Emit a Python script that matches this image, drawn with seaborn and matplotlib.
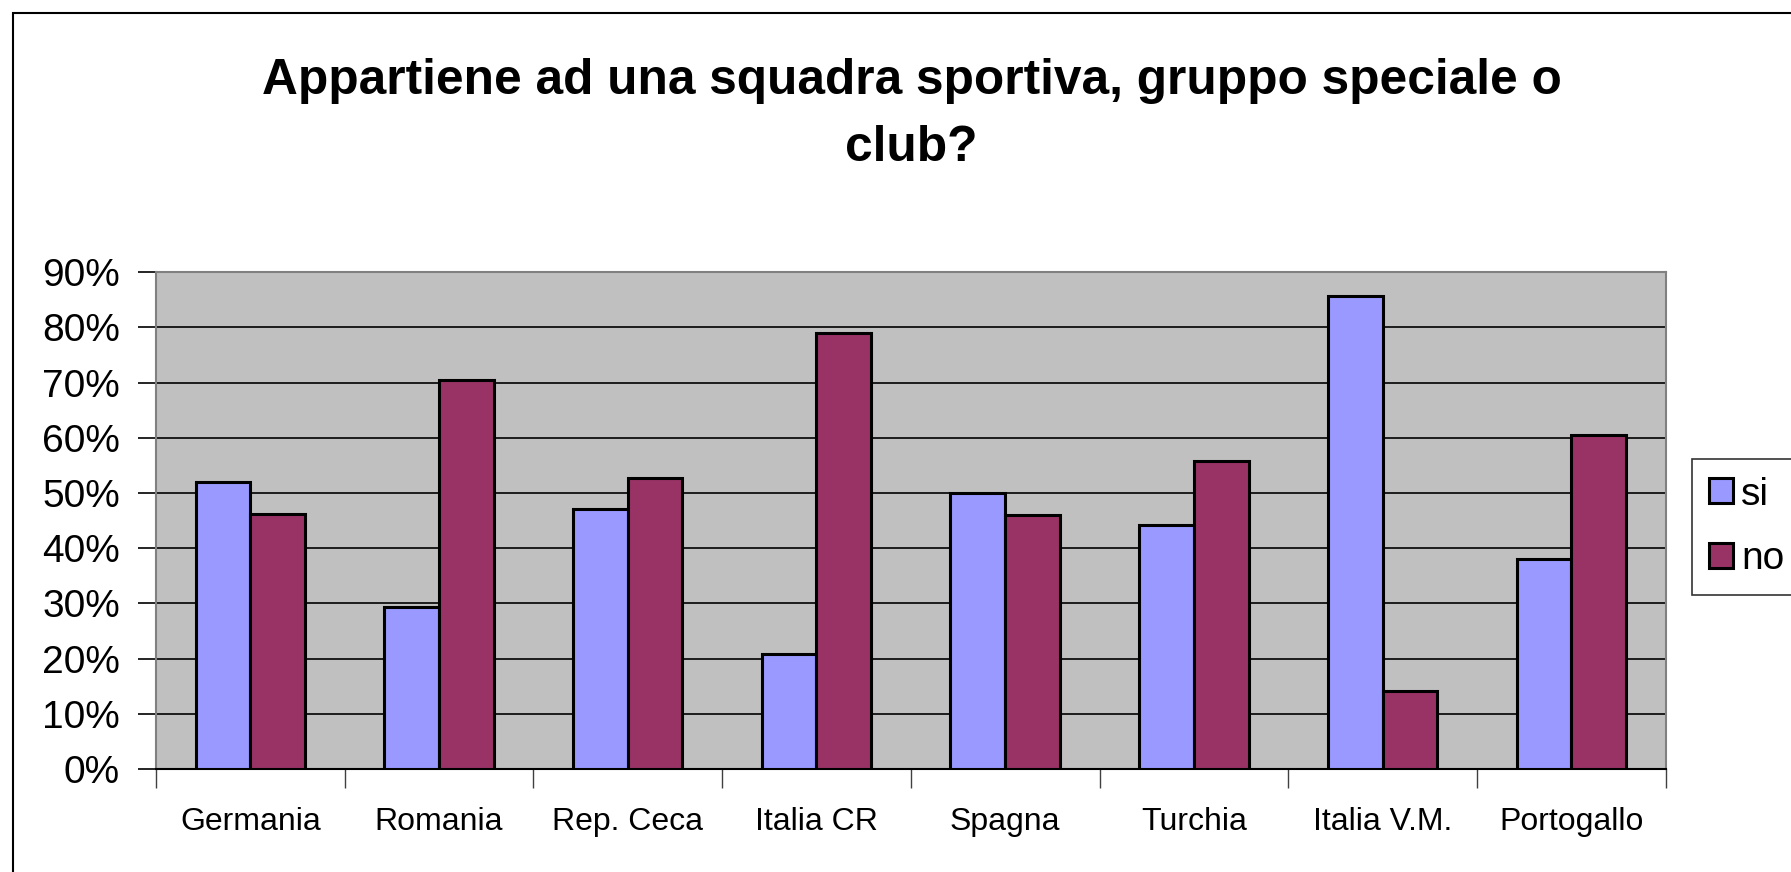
import pandas as pd
import matplotlib.pyplot as plt
import seaborn as sns
from matplotlib.ticker import PercentFormatter
from matplotlib.patches import Rectangle

# Data
countries = ['Germania', 'Romania', 'Rep. Ceca', 'Italia CR', 'Spagna',
             'Turchia', 'Italia V.M.', 'Portogallo']
si_values = [0.519, 0.294, 0.471, 0.208, 0.500, 0.442, 0.857, 0.380]
no_values = [0.462, 0.704, 0.528, 0.790, 0.461, 0.558, 0.142, 0.605]
series_names = ['si', 'no']
yticks = [0.0, 0.1, 0.2, 0.3, 0.4, 0.5, 0.6, 0.7, 0.8, 0.9]

df = pd.DataFrame({
    'Paese': countries * 2,
    'Risposta': ['si'] * len(countries) + ['no'] * len(countries),
    'Valore': si_values + no_values,
})

sns.set_style('white')
plt.rcParams['font.family'] = ['Liberation Sans', 'DejaVu Sans']
plt.rcParams['text.color'] = 'black'
plt.rcParams['xtick.color'] = 'black'
plt.rcParams['ytick.color'] = 'black'
plt.rcParams['axes.labelcolor'] = 'black'

fig = plt.figure(figsize=(17.91, 8.72), dpi=100)
ax = fig.add_axes([0.0871, 0.118, 0.8429, 0.570])

palette = {'si': '#9999FF', 'no': '#993366'}
sns.barplot(data=df, x='Paese', y='Valore', hue='Risposta', order=countries,
            hue_order=series_names, palette=palette, width=0.58,
            edgecolor='black', linewidth=2.2, saturation=1, ax=ax, zorder=3)

ax.set_facecolor('#C0C0C0')
ax.set_ylim(0, 0.9)
ax.set_xlim(-0.5, len(countries) - 0.5)
ax.set_yticks(yticks)
ax.yaxis.set_major_formatter(PercentFormatter(1.0, decimals=0))
ax.yaxis.grid(True, color='black', linewidth=1.2, zorder=1)
ax.set_axisbelow(True)
ax.set_xlabel('')
ax.set_ylabel('')

# frame
for side in ['top', 'right', 'left']:
    ax.spines[side].set_color('#808080')
    ax.spines[side].set_linewidth(1.5)
ax.spines['bottom'].set_color('black')
ax.spines['bottom'].set_linewidth(1.5)

# tick marks: y outward, x between categories
ax.tick_params(axis='y', which='major', direction='out', length=13, width=1.2,
               labelsize=28, pad=13, left=True, color='black')
ax.set_xticks(range(len(countries)))
ax.set_xticklabels(countries)
ax.tick_params(axis='x', which='major', length=0, labelsize=23, pad=27)
ax.set_xticks([i - 0.5 for i in range(len(countries) + 1)], minor=True)
ax.tick_params(axis='x', which='minor', direction='out', length=14, width=1,
               color='#404040', bottom=True)

fig.suptitle('Appartiene ad una squadra sportiva, gruppo speciale o\nclub?',
             fontsize=35.7, fontweight='bold', x=0.509, y=0.934, linespacing=1.6)

handles, labels = ax.get_legend_handles_labels()
leg = ax.legend(handles, labels, loc='upper left', bbox_to_anchor=(0.9447, 0.4736),
                bbox_transform=fig.transFigure, fontsize=28, frameon=True,
                fancybox=False, edgecolor='black', handlelength=0.6,
                handleheight=0.6, handletextpad=0.22, borderpad=0.45,
                labelspacing=0.74, borderaxespad=0)
leg.get_frame().set_linewidth(1.2)

# outer chart border
fig.patches.append(Rectangle((0.007, -0.1), 1.1, 1.0856, transform=fig.transFigure,
                             fill=False, edgecolor='black', linewidth=1.5))

fig.savefig('out.png', dpi=100)
